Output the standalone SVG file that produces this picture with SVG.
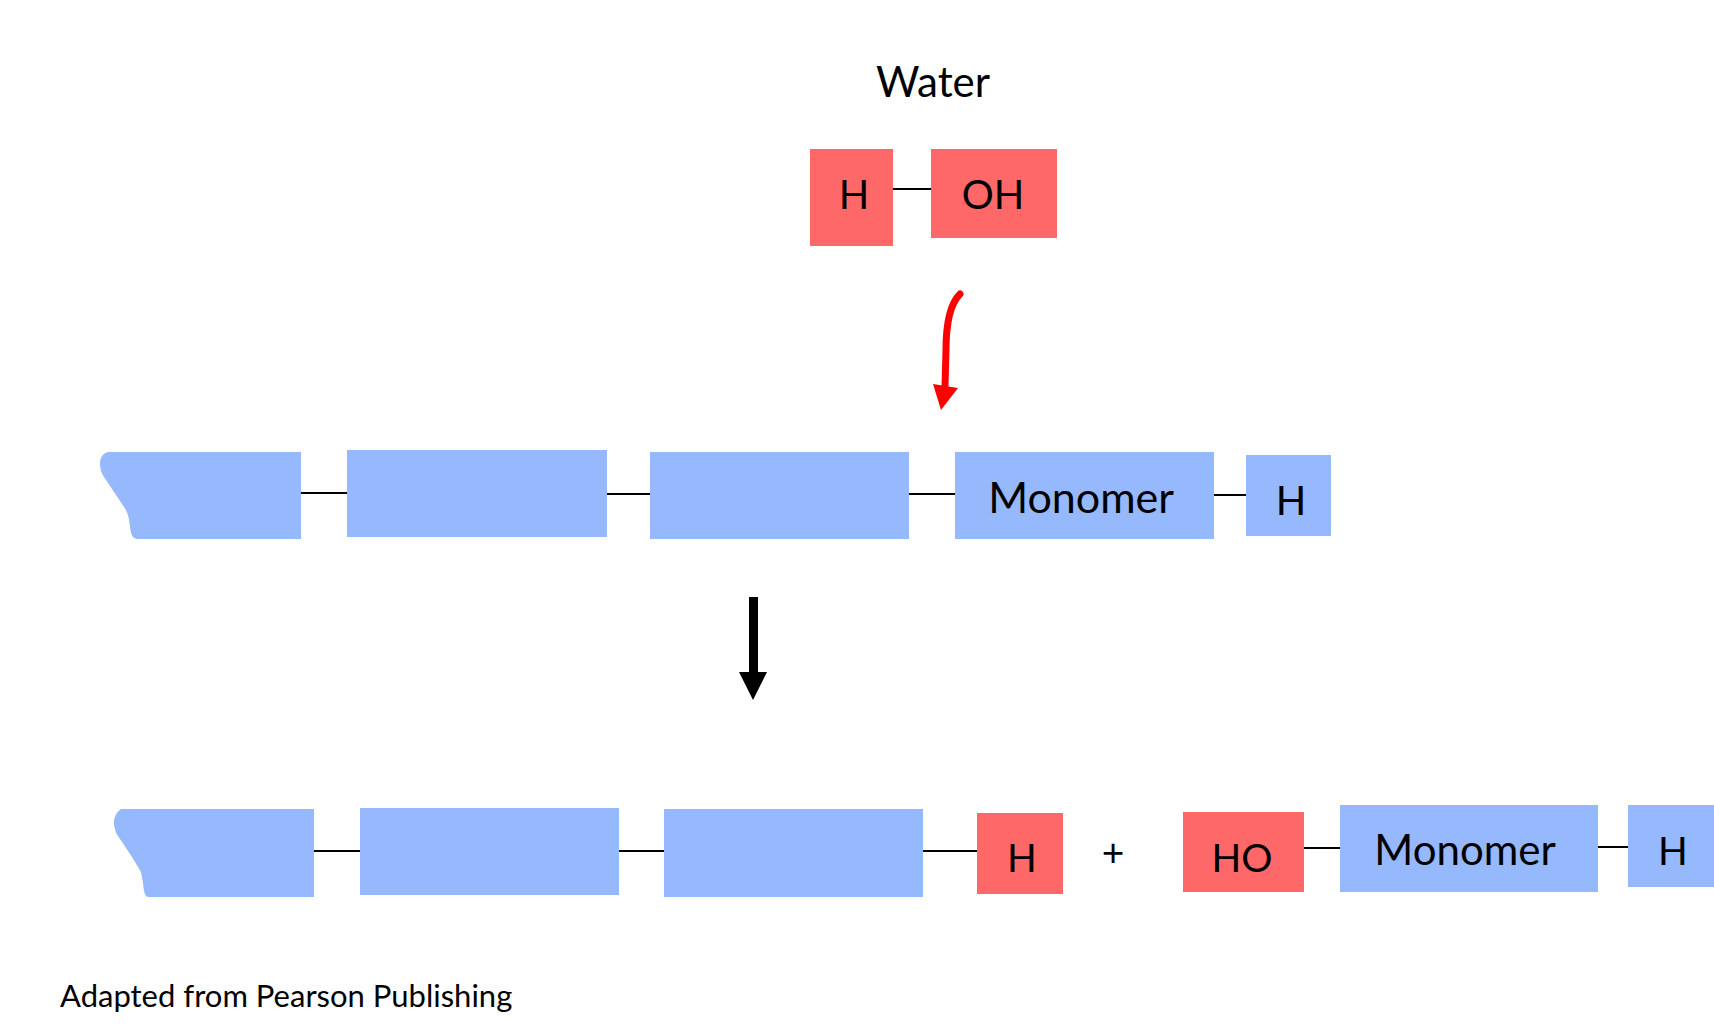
<svg xmlns="http://www.w3.org/2000/svg" width="1714" height="1031" viewBox="0 0 1714 1031">
<style>
.blue{fill:#96B8FC}
.red{fill:#FF6868}
.t{font-family:Lato,"Open Sans","Liberation Sans",sans-serif;fill:#000;text-anchor:middle}
.bond{stroke:#000;stroke-width:2;fill:none}
</style>
<rect width="1714" height="1031" fill="#fff"/>
<text class="t" x="933" y="97" font-size="42">Water</text>
<g id="water-h"><rect class="red" x="810" y="149" width="83" height="97"/><text class="t" x="854" y="209" font-size="40">H</text></g>
<g id="water-oh"><rect class="red" x="931" y="149" width="126" height="89"/><text class="t" x="993" y="209" font-size="40">OH</text></g>
<g id="r1-b1"><path class="blue" d="M301 452 L108 452 Q100 454 100 464 Q100 471 104 477 L126 510 Q129 516 130 527 Q131 539 137 539 L301 539 Z"/></g>
<g id="r1-b2"><rect class="blue" x="347" y="450" width="260" height="87"/></g>
<g id="r1-b3"><rect class="blue" x="650" y="452" width="259" height="87"/></g>
<g id="r1-mono"><rect class="blue" x="955" y="452" width="259" height="87"/><text class="t" x="1081" y="513" font-size="43">Monomer</text></g>
<g id="r1-h"><rect class="blue" x="1246" y="455" width="85" height="81"/><text class="t" x="1291" y="515" font-size="40">H</text></g>
<g id="r2-b1"><path class="blue" d="M314 809 L121 809 Q113 815 114 825 L116 833 L132 857 L141 872 L143 883 Q144 897 148 897 L314 897 Z"/></g>
<g id="r2-b2"><rect class="blue" x="360" y="808" width="259" height="87"/></g>
<g id="r2-b3"><rect class="blue" x="664" y="809" width="259" height="88"/></g>
<g id="r2-h"><rect class="red" x="977" y="813" width="86" height="81"/><text class="t" x="1022" y="872" font-size="39">H</text></g>
<g id="plus"><text class="t" x="1113" y="866" font-size="39">+</text></g>
<g id="r2-ho"><rect class="red" x="1183" y="812" width="121" height="80"/><text class="t" x="1242" y="872" font-size="39">HO</text></g>
<g id="r2-mono"><rect class="blue" x="1340" y="805" width="258" height="87"/><text class="t" x="1465" y="865" font-size="42">Monomer</text></g>
<g id="r2-h2"><rect class="blue" x="1628" y="805" width="86" height="82"/><text class="t" x="1673" y="865" font-size="39">H</text></g>
<g id="connectors">
<line class="bond" x1="893" y1="189" x2="931" y2="189"/>
<line class="bond" x1="301" y1="493" x2="347" y2="493"/>
<line class="bond" x1="607" y1="494" x2="650" y2="494"/>
<line class="bond" x1="909" y1="494" x2="955" y2="494"/>
<line class="bond" x1="1214" y1="495" x2="1246" y2="495"/>
<line class="bond" x1="314" y1="851" x2="360" y2="851"/>
<line class="bond" x1="619" y1="851" x2="664" y2="851"/>
<line class="bond" x1="923" y1="851" x2="977" y2="851"/>
<line class="bond" x1="1304" y1="848" x2="1340" y2="848"/>
<line class="bond" x1="1598" y1="847" x2="1628" y2="847"/>
<path d="M960 294 C950 304 946 322 946 350 L945 386" stroke="#FF0000" stroke-width="7" stroke-linecap="round" fill="none"/>
<polygon points="933,384 958,388 941,410" fill="#FF0000"/>
<rect x="749" y="597" width="9" height="77" fill="#000"/>
<polygon points="739,672 767,672 753,700" fill="#000"/>
</g>
<text x="60" y="1007" font-family="Lato,'Open Sans','Liberation Sans',sans-serif" font-size="31">Adapted from Pearson Publishing</text>
</svg>
